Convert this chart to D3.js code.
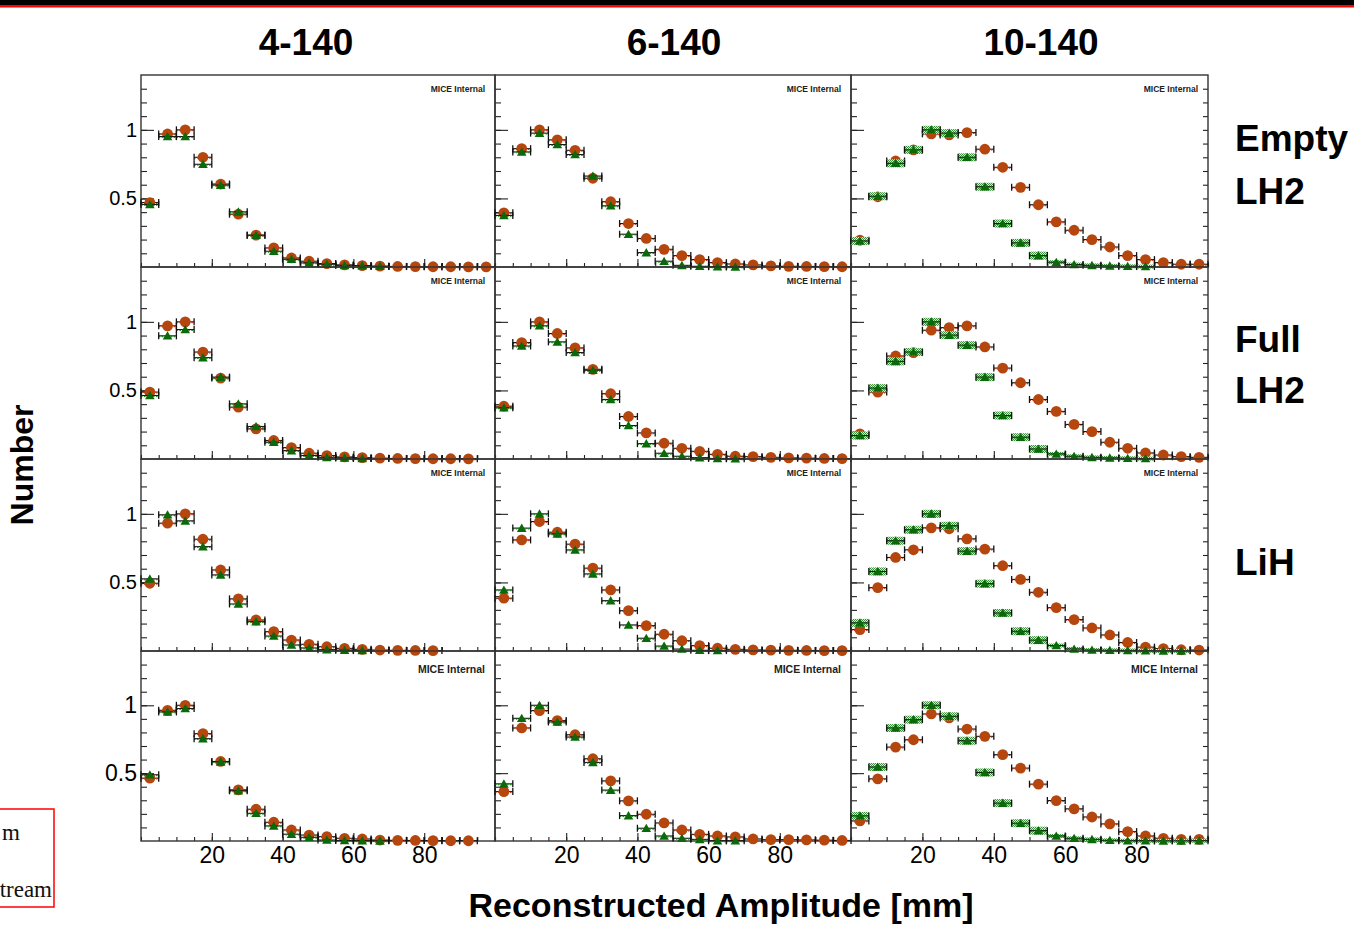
<!DOCTYPE html>
<html>
<head>
<meta charset="utf-8">
<script src="https://cdn.jsdelivr.net/npm/d3@7"></script>
<style>
  body { margin: 0; background: #fff; }
  text { font-family: "Liberation Sans", Arial, sans-serif; }
</style>
</head>
<body>
<script>
// column / row names
const columns = ["4-140", "6-140", "10-140"];
const rowLabels = [["Empty", "LH2"], ["Full", "LH2"], ["LiH"], []];
const binCentres = [2.5, 7.5, 12.5, 17.5, 22.5, 27.5, 32.5, 37.5, 42.5, 47.5,
                    52.5, 57.5, 62.5, 67.5, 72.5, 77.5, 82.5, 87.5, 92.5, 97.5];
const yMajorTicks = [0.5, 1];
const xMajorTicks = [20, 40, 60, 80];
// legend entries, only their right ends are visible in the picture
const legendLabels = ["m", "tream"];

// Empty LH2
const upEmpty4   = [0.47,0.97,1.00,0.80,0.605,0.385,0.232,0.139,0.066,0.042,0.025,0.015,0.010,0.006,0.004,0.003,0.002,0.002,0.001,0.001];
const downEmpty4 = [0.456,0.951,0.951,0.749,0.597,0.402,0.232,0.115,0.056,0.030,0.020,0.012,0.010,0.005,null,null,null,null,null,null];
const upEmpty6   = [0.395,0.863,1.00,0.927,0.851,0.647,0.476,0.317,0.208,0.129,0.083,0.054,0.032,0.022,0.015,0.008,0.005,0.004,0.003,0.002];
const downEmpty6 = [0.376,0.839,0.976,0.893,0.82,0.663,0.446,0.239,0.105,0.042,0.012,0.005,0.002,0.001,null,null,null,null,null,null];
const upEmpty10  = [0.195,0.512,0.773,0.854,0.971,0.963,0.98,0.859,0.727,0.581,0.454,0.329,0.268,0.2,0.146,0.083,0.054,0.032,0.02,0.02];
const downEmpty10= [0.19,0.516,0.756,0.854,1.0,0.976,0.80,0.585,0.317,0.176,0.083,0.035,0.018,0.012,0.008,0.005,0.003,null,null,null];
// Full LH2
const upFull4    = [0.488,0.971,1.0,0.78,0.59,0.378,0.22,0.135,0.083,0.042,0.025,0.015,0.010,0.006,0.004,0.003,0.002,0.002,0.001,null];
const downFull4  = [0.463,0.898,0.944,0.739,0.597,0.402,0.237,0.122,0.061,0.025,0.012,0.008,0.004,null,null,null,null,null,null,null];
const upFull6    = [0.385,0.849,1.0,0.915,0.81,0.654,0.476,0.31,0.19,0.115,0.078,0.056,0.034,0.02,0.017,0.012,0.008,0.006,0.004,0.003];
const downFull6  = [0.373,0.824,0.971,0.854,0.776,0.647,0.434,0.244,0.112,0.042,0.02,0.01,0.004,0.002,null,null,null,null,null,null];
const upFull10   = [0.183,0.488,0.751,0.776,0.939,0.958,0.971,0.817,0.663,0.556,0.434,0.347,0.252,0.2,0.122,0.078,0.044,0.029,0.017,0.012];
const downFull10 = [0.171,0.517,0.712,0.78,1.0,0.903,0.83,0.597,0.317,0.159,0.073,0.037,0.02,0.012,0.008,0.005,0.003,null,null,null];
// LiH
const upLiH4     = [0.494,0.932,1.0,0.815,0.591,0.38,0.226,0.141,0.08,0.049,0.031,0.019,0.012,0.007,0.005,0.004,0.003,null,null,null];
const downLiH4   = [0.526,0.993,0.949,0.761,0.555,0.343,0.214,0.109,0.044,0.022,0.010,0.006,0.003,null,null,null,null,null,null,null];
const upLiH6     = [0.385,0.81,0.944,0.866,0.779,0.604,0.445,0.294,0.185,0.122,0.075,0.039,0.02,0.012,0.008,0.006,0.005,0.004,0.003,0.003];
const downLiH6   = [0.445,0.896,1.0,0.854,0.737,0.562,0.367,0.19,0.093,0.036,0.014,0.005,0.003,null,null,null,null,null,null,null];
const upLiH10    = [0.156,0.462,0.682,0.738,0.898,0.891,0.818,0.743,0.622,0.522,0.428,0.316,0.229,0.168,0.117,0.062,0.028,0.018,0.009,0.007];
const downLiH10  = [0.205,0.58,0.804,0.884,1.0,0.913,0.728,0.491,0.277,0.144,0.079,0.04,0.015,0.007,0.005,0.004,0.002,0.001,0.001,null];
// bottom row
const upRow4_4   = [0.463,0.963,1.0,0.791,0.586,0.377,0.234,0.138,0.081,0.044,0.032,0.02,0.015,0.007,0.005,0.004,0.003,0.002,0.002,null];
const downRow4_4 = [0.488,0.951,0.976,0.754,0.583,0.37,0.204,0.111,0.05,0.027,0.007,0.003,0.002,0.001,null,null,null,null,null,null];
const upRow4_6   = [0.364,0.833,0.961,0.887,0.783,0.606,0.443,0.296,0.197,0.133,0.081,0.049,0.037,0.03,0.015,0.01,0.01,0.008,0.006,0.004];
const downRow4_6 = [0.421,0.904,1.0,0.877,0.766,0.579,0.375,0.187,0.094,0.037,0.02,0.012,0.002,0.002,null,null,null,null,null,null];
const upRow4_10  = [0.148,0.458,0.692,0.746,0.936,0.907,0.825,0.771,0.636,0.537,0.419,0.298,0.237,0.177,0.126,0.069,0.037,0.02,0.012,0.012];
const downRow4_10= [0.185,0.545,0.833,0.894,1.0,0.919,0.739,0.505,0.279,0.131,0.076,0.037,0.02,0.012,0.005,0.002,0.002,0.001,0.001,0.002];

const panels = [
  [[upEmpty4, downEmpty4], [upEmpty6, downEmpty6], [upEmpty10, downEmpty10]],
  [[upFull4, downFull4], [upFull6, downFull6], [upFull10, downFull10]],
  [[upLiH4, downLiH4], [upLiH6, downLiH6], [upLiH10, downLiH10]],
  [[upRow4_4, downRow4_4], [upRow4_6, downRow4_6], [upRow4_10, downRow4_10]]
];

//Layout
const width = 1354, height = 925;
const colEdges = [141, 495, 851, 1208];
const rowEdges = [75, 267, 459, 651, 841];
const titleX = [306, 674, 1041];
const orange = '#b4460e', green = '#0a6a0a';

const svg = d3.select('body').append('svg')
    .attr('width', width)
    .attr('height', height);

svg.append('rect').attr('width', width).attr('height', height).attr('fill', '#fff');

//Top bar
svg.append('rect').attr('x', 0).attr('y', 0).attr('width', width).attr('height', 5).attr('fill', '#000');
svg.append('rect').attr('x', 0).attr('y', 5).attr('width', width).attr('height', 2.5).attr('fill', '#f00');

//Checker for green boxes
const pat = svg.append('defs').append('pattern')
    .attr('id', 'hatch')
    .attr('width', 2).attr('height', 2)
    .attr('patternUnits', 'userSpaceOnUse');
pat.append('rect').attr('width', 2).attr('height', 2).attr('fill', '#d8ead8');
pat.append('rect').attr('width', 1).attr('height', 1).attr('fill', '#3c8f3c');
pat.append('rect').attr('x', 1).attr('y', 1).attr('width', 1).attr('height', 1).attr('fill', '#3c8f3c');

//Column titles
columns.forEach((c, i) => {
    svg.append('text')
        .attr('x', titleX[i])
        .attr('y', 55)
        .attr('text-anchor', 'middle')
        .style('font-size', '37px')
        .style('font-weight', 'bold')
        .text(c);
});

//Row labels
const rowLabelY = [[151, 204], [352, 403], [575], []];
rowLabels.forEach((lines, r) => {
    lines.forEach((l, k) => {
        svg.append('text')
            .attr('x', 1235)
            .attr('y', rowLabelY[r][k])
            .style('font-size', '37px')
            .style('font-weight', 'bold')
            .text(l);
    });
});

const minorY = d3.range(1, 14).map(d => d / 10);
const minorX = d3.range(0, 101, 5);

panels.forEach((rowData, r) => {
    rowData.forEach((series, c) => {
        const x = d3.scaleLinear().domain([0, 100]).range([colEdges[c], colEdges[c+1]]);
        const y = d3.scaleLinear().domain([0, 1.4]).range([rowEdges[r+1], rowEdges[r]]);
        const g = svg.append('g');
        const bottom = r === panels.length - 1;
        const labelSize = bottom ? '23px' : '20px';

        //y ticks (inward)
        g.append('g')
            .attr('transform', `translate(${colEdges[c]},0)`)
            .call(d3.axisLeft(y).tickValues(minorY).tickSizeInner(-6).tickSizeOuter(0).tickFormat(''))
            .call(a => a.select('.domain').remove());
        g.append('g')
            .attr('transform', `translate(${colEdges[c]},0)`)
            .call(d3.axisLeft(y).tickValues(yMajorTicks).tickSizeInner(-13).tickSizeOuter(0).tickPadding(4)
                .tickFormat(c === 0 ? (d => String(d)) : ''))
            .call(a => a.select('.domain').remove())
            .call(a => a.selectAll('text').style('font-size', labelSize).attr('fill', '#000'));
        if (c === 2) {
            g.append('g')
                .attr('transform', `translate(${colEdges[3]},0)`)
                .call(d3.axisRight(y).tickValues(minorY).tickSizeInner(-5).tickSizeOuter(0).tickFormat(''))
                .call(a => a.select('.domain').remove());
        }

        //x ticks (inward)
        g.append('g')
            .attr('transform', `translate(0,${rowEdges[r+1]})`)
            .call(d3.axisTop(x).tickValues(minorX).tickSizeInner(4).tickSizeOuter(0).tickFormat(''))
            .call(a => a.select('.domain').remove());
        g.append('g')
            .attr('transform', `translate(0,${rowEdges[r+1]})`)
            .call(d3.axisBottom(x).tickValues(xMajorTicks).tickSizeInner(-8).tickSizeOuter(0).tickPadding(6)
                .tickFormat(bottom ? (d => String(d)) : ''))
            .call(a => a.select('.domain').remove())
            .call(a => a.selectAll('text').style('font-size', '23px').attr('fill', '#000'));

        g.selectAll('.tick line').attr('stroke', '#222').attr('stroke-width', 1.1);

        //Frame
        g.append('rect')
            .attr('x', colEdges[c]).attr('y', rowEdges[r])
            .attr('width', colEdges[c+1] - colEdges[c])
            .attr('height', rowEdges[r+1] - rowEdges[r])
            .attr('fill', 'none')
            .attr('stroke', '#333')
            .attr('stroke-width', 1.4);

        g.append('text')
            .attr('x', colEdges[c+1] - 10)
            .attr('y', rowEdges[r] + (bottom ? 22 : 17))
            .attr('text-anchor', 'end')
            .style('font-size', bottom ? '10.5px' : '8.5px')
            .style('font-weight', 'bold')
            .attr('fill', '#222')
            .text('MICE Internal');

        //Points: upstream (orange) then downstream (green)
        series.forEach((vals, s) => {
            const pts = vals.map((v, i) => ({ x: binCentres[i], v: v })).filter(d => d.v !== null);
            const col = s === 0 ? orange : green;
            const bars = g.append('g');

            if (s === 1 && c === 2) {
                bars.selectAll('rect.box')
                    .data(pts)
                    .enter()
                    .append('rect')
                    .attr('x', d => x(d.x - 2.5))
                    .attr('width', d => x(d.x + 2.5) - x(d.x - 2.5))
                    .attr('y', d => y(d.v) - (d.v > 0.05 ? 4 : 2))
                    .attr('height', d => d.v > 0.05 ? 8 : 4)
                    .attr('fill', 'url(#hatch)');
            }

            bars.selectAll('line.h')
                .data(pts)
                .enter()
                .append('line')
                .attr('x1', d => x(d.x - 2.5)).attr('x2', d => x(d.x + 2.5))
                .attr('y1', d => y(d.v)).attr('y2', d => y(d.v))
                .attr('stroke', '#111').attr('stroke-width', 1.1);
            bars.selectAll('line.hc')
                .data(pts)
                .enter()
                .append('line')
                .attr('x1', d => x(d.x - 2.5)).attr('x2', d => x(d.x + 2.5))
                .attr('y1', d => y(d.v) + 0.8).attr('y2', d => y(d.v) + 0.8)
                .attr('stroke', s === 0 ? '#d23a1a' : '#1a8a1a')
                .attr('stroke-width', 1.2)
                .attr('stroke-dasharray', '1.5,1.5');
            [-2.5, 2.5].forEach(off => {
                bars.selectAll(null)
                    .data(pts)
                    .enter()
                    .append('line')
                    .attr('x1', d => x(d.x + off)).attr('x2', d => x(d.x + off))
                    .attr('y1', d => y(d.v) - 3.5).attr('y2', d => y(d.v) + 3.5)
                    .attr('stroke', '#111').attr('stroke-width', 1.3);
            });

            if (s === 0) {
                g.selectAll(null)
                    .data(pts)
                    .enter()
                    .append('circle')
                    .attr('cx', d => x(d.x))
                    .attr('cy', d => y(d.v))
                    .attr('r', 5.4)
                    .attr('fill', col);
            } else {
                g.selectAll(null)
                    .data(pts)
                    .enter()
                    .append('path')
                    .attr('transform', d => `translate(${x(d.x)},${y(d.v) + 1})`)
                    .attr('d', d3.symbol(d3.symbolTriangle, 40))
                    .attr('fill', col);
            }
        });
    });
});

//Axis titles
svg.append('text')
    .attr('transform', 'translate(33,465) rotate(-90)')
    .attr('text-anchor', 'middle')
    .style('font-size', '32px')
    .style('font-weight', 'bold')
    .text('Number');

svg.append('text')
    .attr('x', 721)
    .attr('y', 917)
    .attr('text-anchor', 'middle')
    .style('font-size', '34px')
    .style('font-weight', 'bold')
    .text('Reconstructed Amplitude [mm]');

//Legend box, runs off the left edge
svg.append('rect')
    .attr('x', -2).attr('y', 809)
    .attr('width', 56).attr('height', 98)
    .attr('fill', 'none')
    .attr('stroke', '#f00')
    .attr('stroke-width', 1.5);

legendLabels.forEach((l, i) => {
    svg.append('text')
        .attr('x', [20, 52][i])
        .attr('y', 840 + i * 57)
        .attr('text-anchor', 'end')
        .style('font-family', '"Liberation Serif", "Times New Roman", serif')
        .style('font-size', '23px')
        .attr('fill', '#111')
        .text(l);
});
</script>
</body>
</html>
